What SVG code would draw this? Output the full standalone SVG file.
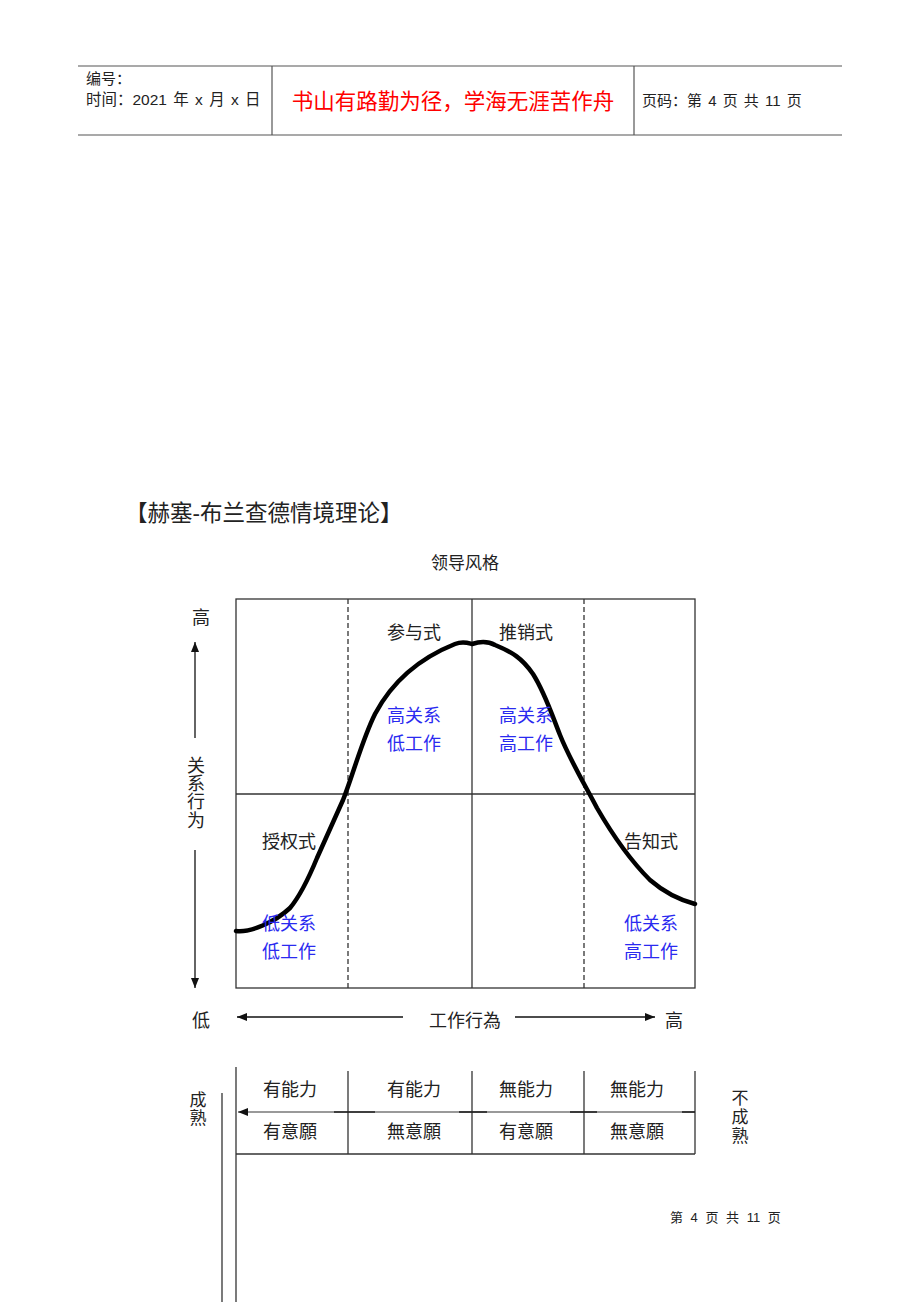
<svg xmlns="http://www.w3.org/2000/svg" width="920" height="1302" viewBox="0 0 920 1302">
<defs>
<style>
text{font-family:"Liberation Sans","Noto Sans CJK SC",sans-serif;fill:#222;}
.t18{font-size:18px;}
.blue{fill:#2a2af0;}
.hdr{stroke:#555;stroke-width:1.2;fill:none;}
.grid{stroke:#333;stroke-width:1.3;fill:none;}
.dash{stroke:#333;stroke-width:1.3;stroke-dasharray:5 3;fill:none;}
.arr{stroke:#111;stroke-width:1.3;fill:none;marker-end:url(#ah);}
</style>
<marker id="ah" viewBox="0 0 10 8" refX="10" refY="4" markerWidth="10" markerHeight="8" markerUnits="userSpaceOnUse" orient="auto">
<path d="M0,0 L10,4 L0,8 Z" fill="#111"/>
</marker>
</defs>
<rect width="920" height="1302" fill="#fff"/>

<g id="header">
<line class="hdr" x1="78" y1="66" x2="842" y2="66"/>
<line class="hdr" x1="78" y1="135" x2="842" y2="135"/>
<line class="hdr" x1="272" y1="66" x2="272" y2="135"/>
<line class="hdr" x1="634" y1="66" x2="634" y2="135"/>
<text x="86" y="84" font-size="15">编号：</text>
<text x="86" y="105" font-size="15.5" word-spacing="2">时间：2021 年 x 月 x 日</text>
<text x="453" y="109" font-size="21.5" text-anchor="middle" style="fill:#f00">书山有路勤为径，学海无涯苦作舟</text>
<text x="642" y="106" font-size="15" word-spacing="2">页码：第 4 页  共 11 页</text>
</g>

<g id="title">
<text x="125" y="521" font-size="22.5">【赫塞-布兰查德情境理论】</text>
<text x="465" y="569" font-size="17" text-anchor="middle">领导风格</text>
</g>

<g id="chart">
<rect class="grid" x="236" y="599" width="459" height="389"/>
<line class="grid" x1="236" y1="794" x2="695" y2="794"/>
<line class="grid" x1="472" y1="599" x2="472" y2="988"/>
<line class="dash" x1="348" y1="599" x2="348" y2="988"/>
<line class="dash" x1="584" y1="599" x2="584" y2="988"/>
</g>

<g id="curve">
<path d="M236,931 C250,933 275,922 290,908 C300,896 310,875 317,858 L343,800 C352,778 362,740 375,714 C392,682 420,658 455,644 C463,641 468,643 472,644 C478,642 486,640 495,645 C512,652 522,658 533,674 C545,693 552,715 560,735 C570,760 585,785 597,808 C612,834 630,860 650,880 C665,893 680,900 695,904" fill="none" stroke="#000" stroke-width="4.5" stroke-linecap="round" stroke-linejoin="round"/>
</g>

<g id="quadrant-labels">
<text class="t18" x="387" y="639">参与式</text>
<text class="t18" x="499" y="639">推销式</text>
<text class="t18 blue" x="387" y="722">高关系</text>
<text class="t18 blue" x="387" y="750">低工作</text>
<text class="t18 blue" x="499" y="722">高关系</text>
<text class="t18 blue" x="499" y="750">高工作</text>
<text class="t18" x="262" y="848">授权式</text>
<text class="t18" x="624" y="848">告知式</text>
<text class="t18 blue" x="262" y="930">低关系</text>
<text class="t18 blue" x="262" y="958">低工作</text>
<text class="t18 blue" x="624" y="930">低关系</text>
<text class="t18 blue" x="624" y="958">高工作</text>
</g>

<g id="axes">
<text class="t18" x="201" y="624" text-anchor="middle">高</text>
<text class="t18" x="196" y="772" text-anchor="middle">关</text>
<text class="t18" x="196" y="790" text-anchor="middle">系</text>
<text class="t18" x="196" y="808" text-anchor="middle">行</text>
<text class="t18" x="196" y="827" text-anchor="middle">为</text>
<text class="t18" x="201" y="1027" text-anchor="middle">低</text>
<text class="t18" x="465" y="1027" text-anchor="middle">工作行為</text>
<text class="t18" x="674" y="1027" text-anchor="middle">高</text>
</g>

<g id="connectors">
<line class="arr" x1="195" y1="738" x2="195" y2="642"/>
<line class="arr" x1="195" y1="850" x2="195" y2="988"/>
<line class="arr" x1="403" y1="1017" x2="237" y2="1017"/>
<line class="arr" x1="515" y1="1017" x2="655" y2="1017"/>
<line x1="695" y1="1112" x2="238" y2="1112" stroke="#777" stroke-width="1.3" marker-end="url(#ah)"/>
</g>

<g id="maturity-table">
<line class="grid" x1="236" y1="1067" x2="236" y2="1302"/>
<line class="grid" x1="222" y1="1093" x2="222" y2="1302"/>
<line class="grid" x1="348" y1="1071" x2="348" y2="1154"/>
<line class="grid" x1="472" y1="1071" x2="472" y2="1154"/>
<line class="grid" x1="584" y1="1071" x2="584" y2="1154"/>
<line class="grid" x1="695" y1="1071" x2="695" y2="1154"/>
<line class="grid" x1="236" y1="1154" x2="695" y2="1154"/>
<g stroke="#222" stroke-width="1.6">
<line x1="334" y1="1112" x2="375" y2="1112"/>
<line x1="459" y1="1112" x2="487" y2="1112"/>
<line x1="570" y1="1112" x2="597" y2="1112"/>
<line x1="682" y1="1112" x2="695" y2="1112"/>
</g>
<text class="t18" x="290" y="1096" text-anchor="middle">有能力</text>
<text class="t18" x="414" y="1096" text-anchor="middle">有能力</text>
<text class="t18" x="526" y="1096" text-anchor="middle">無能力</text>
<text class="t18" x="637" y="1096" text-anchor="middle">無能力</text>
<text class="t18" x="290" y="1138" text-anchor="middle">有意願</text>
<text class="t18" x="414" y="1138" text-anchor="middle">無意願</text>
<text class="t18" x="526" y="1138" text-anchor="middle">有意願</text>
<text class="t18" x="637" y="1138" text-anchor="middle">無意願</text>
<text x="198" y="1106" font-size="17" text-anchor="middle">成</text>
<text x="198" y="1124" font-size="17" text-anchor="middle">熟</text>
<text x="740" y="1104" font-size="17" text-anchor="middle">不</text>
<text x="740" y="1123" font-size="17" text-anchor="middle">成</text>
<text x="740" y="1142" font-size="17" text-anchor="middle">熟</text>
</g>

<g id="footer">
<text x="670" y="1222" font-size="13" word-spacing="4">第 4 页 共 11 页</text>
</g>
</svg>
